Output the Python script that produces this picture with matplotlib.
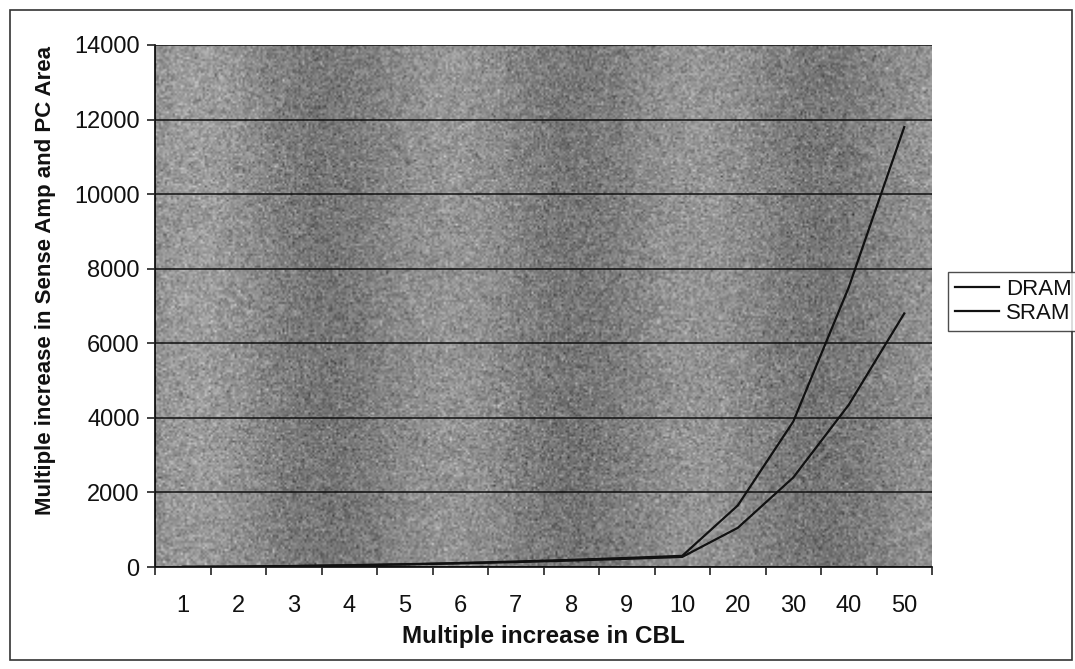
import numpy as np
import matplotlib
matplotlib.use("Agg")
import matplotlib.pyplot as plt
from matplotlib.patches import Rectangle

# Data
categories = ["1", "2", "3", "4", "5", "6", "7", "8", "9", "10", "20", "30", "40", "50"]
dram = [3, 12, 27, 48, 75, 108, 147, 192, 243, 300, 1650, 3900, 7500, 11800]
sram = [3, 11, 24, 43, 68, 97, 132, 173, 219, 270, 1050, 2400, 4350, 6800]
y_ticks = [0, 2000, 4000, 6000, 8000, 10000, 12000, 14000]

plt.rcParams["font.family"] = ["Liberation Sans", "DejaVu Sans"]

fig = plt.figure(figsize=(10.75, 6.69), dpi=100)
fig.patch.set_facecolor("white")

# Outer chart frame
fig.add_artist(Rectangle((10 / 1075, 1 - 660 / 669), 1062 / 1075, 650 / 669,
                         transform=fig.transFigure, fill=False,
                         edgecolor="#333333", linewidth=1.2))

ax = fig.add_axes([155 / 1075, 1 - 567 / 669, 777 / 1075, 522 / 669])

# Banded gray gradient fill with a coarse grain for the plot area
n = len(categories)
w, h = 390, 260
xs = np.linspace(0, 1, w)
band = (0.53
        + 0.06 * np.cos(2 * np.pi * (xs - 0.06) / 0.32)
        + 0.03 * np.exp(-((xs - 0.03) / 0.08) ** 2))
ys = np.linspace(0, 1, h)[:, None]
field = band[None, :] - 0.015 * ys
rng = np.random.default_rng(7)
grain = rng.normal(0, 0.07, (h, w))
img = np.clip(field + grain, 0, 1)
ax.imshow(img, cmap="gray", vmin=0, vmax=1, aspect="auto",
          extent=(-0.5, n - 0.5, 0, 14000), interpolation="bilinear", zorder=0)

x = np.arange(n)
ax.plot(x, dram, color="#111111", linewidth=1.6, label="DRAM", zorder=3)
ax.plot(x, sram, color="#111111", linewidth=1.6, label="SRAM", zorder=3)

ax.set_xlim(-0.5, n - 0.5)
ax.set_ylim(0, 14000)
ax.set_yticks(y_ticks)
ax.set_yticklabels([str(v) for v in y_ticks], fontsize=17, color="#111111")
ax.set_xticks(x)
ax.set_xticklabels(categories, fontsize=17, color="#111111")
ax.set_xticks(np.arange(-0.5, n, 1), minor=True)
ax.tick_params(axis="x", which="major", length=0, pad=20)
ax.tick_params(axis="x", which="minor", length=6, width=1.2, color="#222222")
ax.tick_params(axis="y", length=6, width=1.2, color="#222222", pad=5)

ax.yaxis.grid(True, color="#111111", linewidth=1.1, zorder=1)
ax.set_axisbelow(False)
for s in ["top", "right"]:
    ax.spines[s].set_visible(False)
ax.spines["left"].set_linewidth(1.2)
ax.spines["bottom"].set_linewidth(1.2)

ax.set_xlabel("Multiple increase in CBL", fontsize=17.5, fontweight="bold",
              color="#111111", labelpad=6)
ax.set_ylabel("Multiple increase in Sense Amp and PC Area", fontsize=16,
              fontweight="bold", color="#111111", labelpad=12)
ax.yaxis.set_label_coords(-0.128, 0.548)

leg = fig.legend(loc="upper left", bbox_to_anchor=(948 / 1075, 1 - 272 / 669),
                 frameon=True, fancybox=False, fontsize=16, handlelength=2.0,
                 handletextpad=0.3, borderpad=0.3, labelspacing=0.15,
                 borderaxespad=0)
leg.get_frame().set_edgecolor("#222222")
leg.get_frame().set_linewidth(1.0)
for t in leg.get_texts():
    t.set_color("#111111")

fig.savefig("out.png", dpi=100, facecolor="white")
